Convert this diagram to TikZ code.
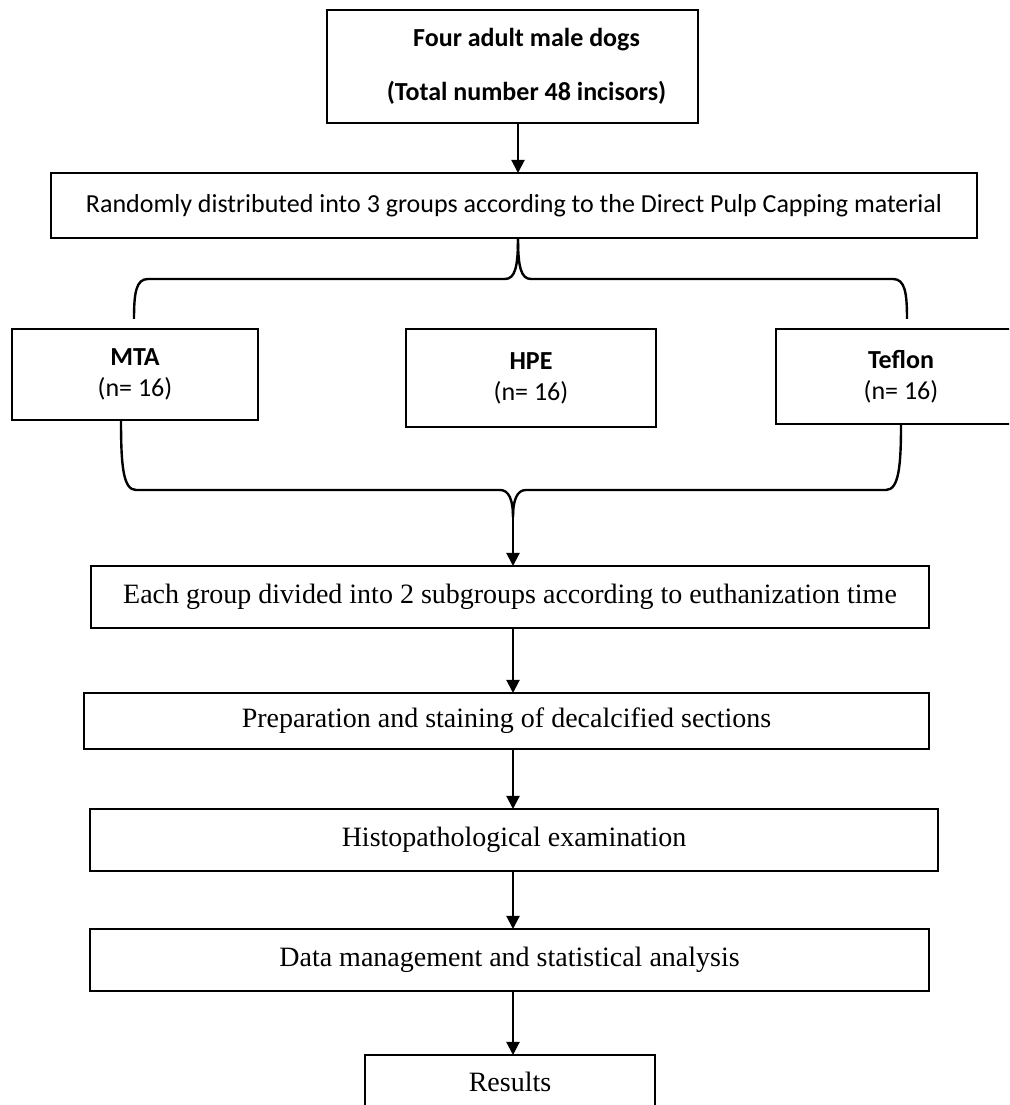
\documentclass[tikz,border=0pt]{standalone}
\usepackage{fontspec}
\setmainfont{Liberation Serif}
\newfontfamily\calibri{Carlito}
\usetikzlibrary{arrows.meta, positioning, calc}
\tikzset{
  % shared base
  box/.style={
    rectangle, draw=black, line width=2.2pt,
    fill=white, inner sep=0pt, outer sep=0pt,
    align=center,
  },
  % upper part (sans) and lower part (serif)
  topBox/.style  ={box, font=\calibri\fontsize{26}{31}\selectfont},
  groupBox/.style={topBox, minimum width=250pt},
  stepBox/.style ={box, font=\fontsize{28}{33}\selectfont,
                   minimum height=62pt},
  % connectors
  flowArr/.style ={-{Triangle[length=13pt,width=13pt]}, line width=2pt},
  braceLine/.style={line width=2.4pt, line join=round},
}

\begin{document}
\begin{tikzpicture}[x=1pt, y=1pt]
\useasboundingbox (0,0) rectangle (1009,1105);
\clip (0,0) rectangle (1009,1105);

% ═══════════════════════════════════════════════════════════════════════════
%  SAMPLE
% ═══════════════════════════════════════════════════════════════════════════
\node[topBox, minimum width=371pt, minimum height=113pt] (dogs) at (512.5,1038.5) {%
  \hspace*{28pt}\textbf{Four adult male dogs}\\[23pt]
  \hspace*{28pt}\textbf{(Total number 48 incisors)}%
};

\node[topBox, minimum width=926pt, minimum height=65pt] (random) at (514,899.5)
  {Randomly distributed into 3 groups according to the Direct Pulp Capping material};

\coordinate (topSpine) at (518,0);
\draw[flowArr] (dogs.south -| topSpine) -- (random.north -| topSpine);

% ═══════════════════════════════════════════════════════════════════════════
%  GROUPS
% ═══════════════════════════════════════════════════════════════════════════
\node[groupBox, minimum width=246pt, minimum height=91pt] (mta) at (135,730.5)
  {\textbf{MTA}\\(n= 16)};
\node[groupBox, minimum height=98pt] (hpe) at (531,727)
  {\textbf{HPE}\\(n= 16)};
\node[groupBox, minimum height=95pt] (teflon) at (901,728.5)
  {\textbf{Teflon}\\(n= 16)};

% upper brace
\coordinate (topCusp) at (random.south -| topSpine);
\coordinate (braceL) at (134,786);
\coordinate (braceR) at (907,786);
\draw[braceLine] (braceL) .. controls (134,812) and (136,826) .. (148,826)
  -- (505,826) .. controls (515,826) and (518,838) .. (topCusp);
\draw[braceLine] (braceR) .. controls (907,812) and (905,826) .. (893,826)
  -- (531,826) .. controls (521,826) and (518,838) .. (topCusp);

% lower brace
\coordinate (spine) at (513,0);
\coordinate (botCusp) at (513,588);
\coordinate (botL) at (mta.south -| 121,0);
\coordinate (botR) at (teflon.south -| 901,0);
\draw[braceLine] (botL) .. controls (121,640) and (123,615) .. (136,615)
  -- (500,615) .. controls (509,615) and (513,605) .. (botCusp);
\draw[braceLine] (botR) .. controls (901,640) and (899,615) .. (886,615)
  -- (526,615) .. controls (517,615) and (513,605) .. (botCusp);

% ═══════════════════════════════════════════════════════════════════════════
%  PROCEDURE
% ═══════════════════════════════════════════════════════════════════════════
\node[stepBox, minimum width=838pt] (each) at (510,508)
  {Each group divided into 2 subgroups according to euthanization time};
\node[stepBox, minimum width=845pt, minimum height=56pt,
      below=65pt of each, xshift=-3.5pt] (prep)
  {Preparation and staining of decalcified sections};
\node[stepBox, minimum width=848pt, below=60pt of prep, xshift=7.5pt] (histo)
  {Histopathological examination};
\node[stepBox, minimum width=839pt, below=58pt of histo, xshift=-4.5pt] (data)
  {Data management and statistical analysis};
\node[stepBox, minimum width=290pt, minimum height=54pt,
      below=64pt of data, xshift=0.5pt] (results) {Results};

\draw[flowArr] (botCusp) -- (each.north -| spine);
\draw[flowArr] (each.south -| spine) -- (prep.north -| spine);
\draw[flowArr] (prep.south -| spine) -- (histo.north -| spine);
\draw[flowArr] (histo.south -| spine) -- (data.north -| spine);
\draw[flowArr] (data.south -| spine) -- (results.north -| spine);

\end{tikzpicture}
\end{document}
